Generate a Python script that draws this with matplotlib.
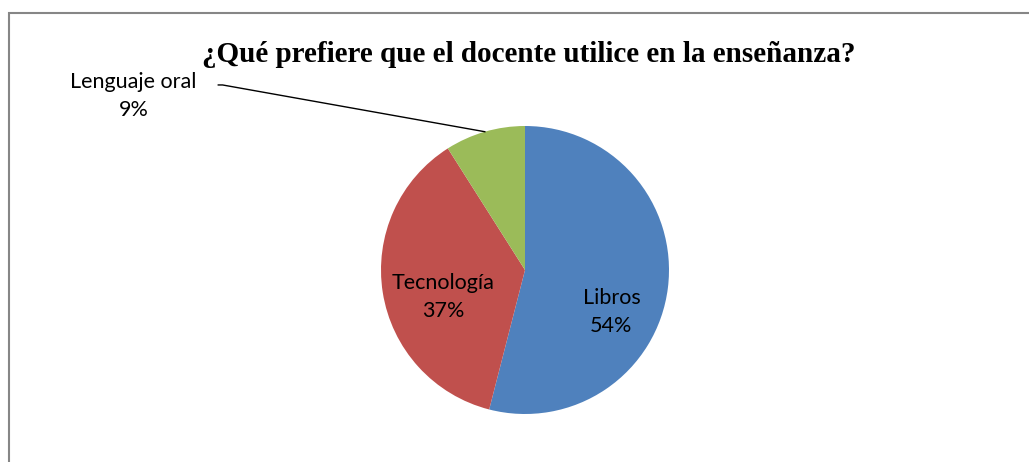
import numpy as np
import matplotlib.pyplot as plt
from matplotlib.patches import Rectangle

categorias = ["Libros", "Tecnología", "Lenguaje oral"]
porcentajes = [54, 37, 9]
colores = ["#4F81BD", "#C0504D", "#9BBB59"]

W, H = 1029, 462
fig = plt.figure(figsize=(W / 100, H / 100), dpi=100)

# borde gris del grafico (se corta a la derecha y abajo)
fig.patches.append(Rectangle((9 / W, -0.1), 1.2, (H - 13.5) / H + 0.1,
                             transform=fig.transFigure, fill=False,
                             edgecolor="#868686", linewidth=1.5))

cx, cy, r = 525, H - 270, 144
ax = fig.add_axes([(cx - r) / W, (cy - r) / H, 2 * r / W, 2 * r / H])
wedges, _ = ax.pie(porcentajes, colors=colores, startangle=90,
                   counterclock=False, radius=1)
ax.set_xlim(-1, 1)
ax.set_ylim(-1, 1)
ax.set_aspect("equal")
ax.axis("off")

fig.text(529 / W, 1 - 55 / H, "¿Qué prefiere que el docente utilice en la enseñanza?",
         ha="center", va="center", fontsize=21, fontweight="bold",
         family="Liberation Serif")

etiquetas = [f"{c}\n{p}%" for c, p in zip(categorias, porcentajes)]
pos = [(0.60, -0.29), (-0.57, -0.19), (-2.72, 1.21)]
for t, (x, y) in zip(etiquetas, pos):
    ax.text(x, y, t, ha="center", va="center", fontsize=15.5,
            family="Lato", linespacing=1.5, clip_on=False)

# linea guia para el sector pequeño
w = wedges[2]
ang = np.deg2rad((w.theta1 + w.theta2) / 2)
px, py = np.cos(ang), np.sin(ang)
ax.plot([-2.13, -2.10, px], [1.285, 1.285, py], color="black", lw=1,
        clip_on=False)

fig.savefig("out.png", dpi=100)
